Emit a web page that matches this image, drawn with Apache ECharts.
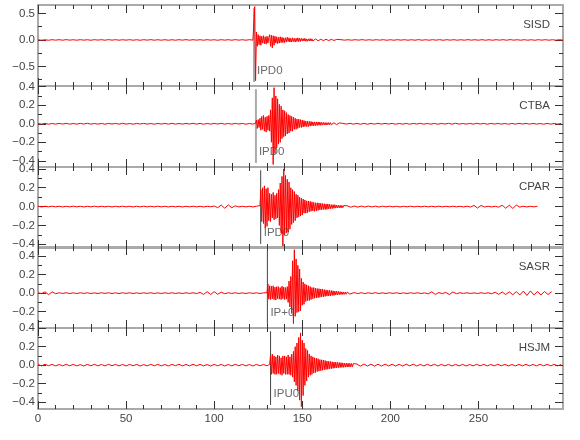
<!DOCTYPE html>
<html><head><meta charset="utf-8">
<script src="https://cdn.jsdelivr.net/npm/echarts@6/dist/echarts.min.js"></script>
<style>html,body{margin:0;padding:0;background:#fff}#c{width:580px;height:440px}</style>
</head><body><div id="c"></div>
<script>
// ---------------- DATA ----------------
const stations = ['SISD','CTBA','CPAR','SASR','HSJM'];
const pickTimes = [122.6, 123.7, 126.4, 130.2, 132.0];
const pickLabels = ['IPD0','IPD0','IPD0','IP+0','IPU0'];
const yMin = [-0.87, -0.467, -0.44, -0.377, -0.476];
const yMax = [0.66, 0.408, 0.42, 0.499, 0.403];
const yMajor = [[-0.5,0,0.5],[-0.4,-0.2,0,0.2,0.4],[-0.4,-0.2,0,0.2,0.4],[-0.2,0,0.2,0.4],[-0.4,-0.2,0,0.2,0.4]];
const yMinor = [[-0.75,-0.25,0.25],[-0.3,-0.1,0.1,0.3],[-0.3,-0.1,0.1,0.3],[-0.3,-0.1,0.1,0.3],[-0.3,-0.1,0.1,0.3]];
const xMax = 298;
const xMajor = [0,50,100,150,200,250];
const xMinor = [10,20,30,40,60,70,80,90,110,120,130,140,160,170,180,190,210,220,230,240,260,270,280,290];
const preStep = 2, evtStep = 0.5, postStep = 2;
const evtStart = [122.5, 123.5, 126, 130, 131.5];
const postStart = [172, 173, 175.5, 179.5, 181];

const sisdPre = [.004,-.005,.003,-.006,.005,-.004,.005,-.005,.006,-.004,.004,-.005,.005,-.004,.004,-.006,.005,-.003,.005,-.005,.006,-.004,.005,-.005,.004,-.004,.005,-.005,.004,-.006,.005,-.004,.006,-.005,.004,-.005,.005,-.006,.004,-.005,.005,-.004,.006,-.005,.005,-.004,.004,-.005,.005,-.004,.004,-.006,.005,-.004,.005,-.005,.006,-.004,.004,-.005,.005,-.004];
const sisdEvt = [.01,.63,-.77,.15,-.12,.1,-.09,.08,-.1,.07,-.06,.08,-.07,.06,-.08,.07,-.06,.05,.1,-.12,.09,-.15,.08,-.1,.07,-.06,.06,-.07,.05,-.06,.06,-.05,.05,-.05,.04,-.05,.04,-.04,.05,-.03,.04,-.04,.03,-.04,.04,-.03,.03,-.04,.03,-.03,.04,-.03,.03,-.03,.03,-.02,.025,-.02,.03,-.025,.02,-.025,.02,-.02,.025,-.02,.02,-.02,.015,-.02,.02,-.015,.02,-.015,.015,-.015,.012,-.015,.01,-.012,.015,-.01,.012,-.01,.01,-.012,.01,-.01,.012,-.008,.01,-.01,.008,-.01,.01,-.008];
const sisdPost = [.005,-.004,.004,-.005,.005,-.004,.006,-.005,.004,-.005,.005,-.004,.005,-.006,.004,-.005,.005,-.004,.005,-.005,.004,-.005,.006,-.005,.004,-.005,.005,-.004,.005,-.006,.005,-.004,.005,-.005,.004,-.005,.006,-.004,.004,-.005,.005,-.005,.004,-.006,.005,-.004,.005,-.005,.006,-.004,.004,-.005,.005,-.005,.004,-.006,.005,-.004,.005,-.005,.004,-.005,.005,-.004];

const ctbaPre = [.003,-.004,.004,-.005,.003,-.004,.004,-.003,.005,-.004,.003,-.004,.004,-.003,.005,-.004,.003,-.004,.004,-.005,.004,-.003,.004,-.004,.005,-.004,.003,-.005,.004,-.003,.004,-.004,.003,-.005,.004,-.003,.004,-.004,.005,-.004,.003,-.004,.004,-.003,.005,-.004,.004,-.005,.003,-.004,.004,-.003,.005,-.004,.003,-.004,.004,-.003,.004,-.005,.003,-.004];
const ctbaEvt = [.005,.04,-.05,.045,-.04,.06,-.07,.08,-.06,.09,-.08,.07,-.09,.08,-.07,.09,-.08,.15,-.2,.28,-.44,.39,-.32,.3,-.26,.27,-.22,.21,-.2,.19,-.16,.15,-.14,.14,-.13,.12,-.11,.1,-.1,.09,-.08,.08,-.08,.07,-.06,.06,-.06,.05,-.05,.05,-.04,.045,-.04,.04,-.035,.035,-.03,.03,-.03,.028,-.03,.025,-.025,.025,-.022,.02,-.022,.02,-.02,.02,-.018,.02,-.016,.018,-.016,.015,-.014,.015,-.013,.012,-.014,.012,-.012,.013,-.011,.012,-.01,.011,-.012,.01,-.01,.011,-.009,.01,-.01,.009];
const ctbaPost = [.005,-.004,.005,-.004,.004,-.005,.004,-.005,.004,-.004,.005,-.004,.004,-.003,.004,-.005,.003,-.004,.004,-.005,.004,-.003,.005,-.004,.003,-.004,.004,-.005,.004,-.003,.004,-.004,.005,-.004,.003,-.004,.004,-.004,.005,-.003,.004,-.005,.004,-.003,.004,-.004,.003,-.005,.004,-.004,.005,-.003,.004,-.004,.004,-.004,.003,-.005,.004,-.004,.003,-.004,.004];

const cparPre = [.003,-.004,.003,-.003,.004,-.003,.003,-.004,.003,-.003,.004,-.003,.003,-.004,.003,-.003,.004,-.003,.003,-.003,.003,-.004,.003,-.003,.004,-.003,.003,-.004,.003,-.003,.004,-.003,.003,-.003,.004,-.003,.003,-.004,.003,-.003,.003,-.004,.003,-.003,.004,-.003,.003,-.004,.003,-.003,.006,-.012,.016,-.018,.017,-.012,.008,-.004,.003,-.003,.003,-.004,.003];
const cparEvt = [.01,.18,-.16,.2,-.18,.22,-.23,.19,-.21,.2,-.15,.14,-.16,.13,-.12,.15,-.14,.12,-.13,.14,-.12,.18,-.2,.25,-.28,.32,-.42,.4,-.3,.33,-.28,.29,-.27,.26,-.24,.2,-.19,.18,-.17,.16,-.15,.13,-.12,.12,-.11,.1,-.1,.09,-.09,.08,-.07,.07,-.07,.06,-.065,.06,-.055,.055,-.05,.05,-.045,.045,-.05,.04,-.045,.04,-.04,.038,-.035,.035,-.035,.032,-.03,.03,-.032,.028,-.03,.028,-.025,.025,-.022,.02,-.022,.02,-.018,.02,-.016,.016,-.015,.015,-.014,.013,-.014,.012,-.012,.011];
const cparPost = [.008,-.007,.006,-.006,.005,-.005,.005,-.004,.004,-.005,.004,-.003,.004,-.003,.003,-.004,.003,-.003,.004,-.003,.003,-.003,.004,-.003,.003,-.003,.004,-.003,.003,-.003,.004,-.003,.003,-.004,.003,-.005,.012,-.016,.012,-.005,.003,-.004,.003,-.006,.014,-.018,.015,-.02,.016,-.006,.003,-.004,.003,-.003,.003];

const sasrPre = [.004,-.005,.014,-.016,.014,-.006,.004,-.003,.004,-.004,.003,-.004,.004,-.003,.004,-.004,.003,-.004,.004,-.003,.004,-.004,.003,-.004,.004,-.003,.004,-.004,.003,-.004,.004,-.003,.004,-.004,.003,-.004,.004,-.003,.004,-.004,.003,-.004,.004,-.003,.004,-.004,.008,-.014,.016,-.015,.016,-.012,.01,-.006,.004,-.003,.004,-.004,.003,-.004,.004,-.003,.004,-.004,.003];
const sasrEvt = [.005,.1,-.065,.08,-.07,.075,-.06,.08,-.07,.065,-.075,.07,-.06,.07,-.065,.06,-.07,.075,-.06,.065,-.07,.06,-.065,.07,-.1,.13,-.15,.18,-.22,.35,-.33,.47,-.25,.37,-.21,.3,-.2,.26,-.19,.16,-.13,.12,-.12,.1,-.09,.09,-.08,.08,-.08,.07,-.07,.06,-.06,.06,-.055,.055,-.05,.05,-.05,.048,-.045,.045,-.04,.045,-.04,.038,-.035,.035,-.032,.032,-.03,.03,-.03,.028,-.025,.025,-.025,.022,-.02,.022,-.02,.018,-.016,.016,-.015,.014,-.015,.013,-.012,.012,-.012,.011,-.01,.011,-.01,.01];
const sasrPost = [.006,-.005,.005,-.005,.004,-.004,.005,-.004,.003,-.004,.004,-.003,.004,-.004,.003,-.004,.004,-.003,.004,-.004,.003,-.008,.015,-.014,.006,-.005,.008,-.015,.013,-.006,.004,-.003,.004,-.004,.003,-.004,.004,-.003,.004,-.006,.01,-.013,.012,-.015,.014,-.017,.016,-.019,.022,-.026,.024,-.019,.017,-.02,.018,-.015,.016];

const hsjmPre = [.007,-.008,.009,-.006,.008,-.009,.007,-.008,.009,-.007,.008,-.008,.006,-.009,.008,-.007,.009,-.008,.007,-.008,.009,-.006,.008,-.008,.007,-.009,.008,-.007,.008,-.009,.006,-.008,.009,-.007,.008,-.008,.007,-.009,.008,-.006,.009,-.008,.007,-.008,.009,-.007,.008,-.008,.006,-.009,.008,-.007,.008,-.009,.007,-.008,.009,-.006,.008,-.008,.007,-.009,.008,-.007,.008,-.008];
const hsjmEvt = [.01,.11,-.1,.12,-.09,.1,-.1,.09,-.1,.11,-.09,.1,-.1,.08,-.11,.1,-.09,.1,-.1,.09,-.1,.11,-.1,.09,-.11,.12,-.13,.15,-.18,.2,-.22,.24,-.28,.3,-.38,.35,-.45,.27,-.33,.24,-.22,.18,-.17,.16,-.13,.12,-.11,.1,-.1,.09,-.085,.08,-.08,.075,-.07,.07,-.065,.06,-.06,.058,-.055,.055,-.05,.05,-.048,.045,-.045,.042,-.04,.04,-.038,.036,-.035,.034,-.032,.032,-.03,.03,-.028,.028,-.026,.027,-.025,.024,-.024,.022,-.022,.022,-.02,.02,-.02,.019,-.018,.018,-.017,.017];
const hsjmPost = [.012,-.011,.012,-.01,.011,-.011,.01,-.011,.011,-.009,.01,-.01,.009,-.01,.01,-.008,.01,-.009,.008,-.009,.009,-.008,.009,-.009,.008,-.008,.008,-.009,.008,-.008,.008,-.009,.007,-.008,.009,-.007,.008,-.008,.007,-.008,.009,-.007,.008,-.008,.007,-.009,.008,-.007,.008,-.008,.007,-.008,.009,-.007,.008,-.007,.008,-.008,.007];

const preData = [sisdPre, ctbaPre, cparPre, sasrPre, hsjmPre];
const evtData = [sisdEvt, ctbaEvt, cparEvt, sasrEvt, hsjmEvt];
const postData = [sisdPost, ctbaPost, cparPost, sasrPost, hsjmPost];

// ---------------- LAYOUT / STYLE ----------------
const FONT = "'Liberation Sans Narrow','Liberation Sans',sans-serif";
const FS = 11.5;
const tops = [5, 86, 167, 247, 328];
const H = 81;
const pickColor = ['#aaaaaa','#aaaaaa','#444444','#444444','#444444'];
const pickWidth = [2, 2, 1, 1, 1];
const fmt = v => (v < 0 ? '\u2212' : '') + Math.abs(v).toFixed(1);

function buildTrace(i) {
  const d = [];
  preData[i].forEach((v, k) => d.push([k * preStep, v]));
  evtData[i].forEach((v, k) => d.push([evtStart[i] + k * evtStep, v]));
  postData[i].forEach((v, k) => d.push([postStart[i] + k * postStep, v]));
  return d;
}

const grids = [], xAxes = [], yAxes = [], series = [], titles = [];
for (let i = 0; i < 5; i++) {
  grids.push({ left: 38, right: 17, top: tops[i], height: H });
  const xa = (pos, vals, len, line, labels) => ({
    type: 'value', gridIndex: i, min: 0, max: xMax, position: pos,
    axisLine: { show: line, onZero: false, lineStyle: { color: '#aaaaaa', width: 2 } },
    axisTick: { show: true, inside: true, length: len, customValues: vals, lineStyle: { color: '#333', width: 1 } },
    axisLabel: { show: labels, customValues: vals, margin: 4, fontFamily: FONT, fontSize: FS, color: '#444' },
    splitLine: { show: false }
  });
  xAxes.push(xa('bottom', xMajor, 8, true, i === 4), xa('bottom', xMinor, 4, false, false),
             xa('top', xMajor, 8, true, false), xa('top', xMinor, 4, false, false));
  const ya = (pos, vals, len, line, labels) => ({
    type: 'value', gridIndex: i, min: yMin[i], max: yMax[i], position: pos,
    axisLine: { show: line, onZero: false, lineStyle: { color: '#aaaaaa', width: 2 } },
    axisTick: { show: true, inside: true, length: len, customValues: vals, lineStyle: { color: '#333', width: 1 } },
    axisLabel: { show: labels, customValues: vals, margin: 3, formatter: fmt, fontFamily: FONT, fontSize: FS, color: '#444' },
    splitLine: { show: false }
  });
  yAxes.push(ya('left', yMajor[i], 8, true, true), ya('left', yMinor[i], 4, false, false),
             ya('right', yMajor[i], 8, true, false), ya('right', yMinor[i], 4, false, false));

  const xi = 4 * i, yi = 4 * i;
  const range = yMax[i] - yMin[i];
  series.push({
    type: 'line', xAxisIndex: xi, yAxisIndex: yi, silent: true, symbol: 'none',
    data: [[pickTimes[i], yMin[i] + 0.05 * range], [pickTimes[i], yMin[i] + 0.96 * range]],
    lineStyle: { color: pickColor[i], width: pickWidth[i] }, z: 1
  });
  series.push({
    type: 'line', xAxisIndex: xi, yAxisIndex: yi, silent: true, symbol: 'none', showSymbol: false,
    sampling: null, data: buildTrace(i), lineStyle: { color: '#ff0000', width: 1 }, z: 2
  });
  series.push({
    type: 'scatter', xAxisIndex: xi, yAxisIndex: yi, silent: true, symbolSize: 0,
    data: [[pickTimes[i], yMin[i] + 0.185 * range]],
    label: { show: true, position: 'right', distance: 3, formatter: pickLabels[i], fontFamily: FONT, fontSize: FS, color: '#444' }, z: 3
  });
  titles.push({ text: stations[i], right: 30, top: tops[i] + 14, padding: 0,
    textStyle: { fontFamily: FONT, fontSize: FS, fontWeight: 'normal', color: '#444' } });
}

const chart = echarts.init(document.getElementById('c'), null, { renderer: 'canvas' });
chart.setOption({
  animation: false,
  backgroundColor: '#fff',
  title: titles,
  grid: grids,
  xAxis: xAxes,
  yAxis: yAxes,
  series: series
});
</script></body></html>
